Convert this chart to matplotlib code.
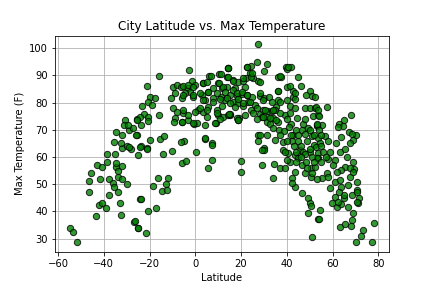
import numpy as np
import matplotlib
matplotlib.use("Agg")
import matplotlib.pyplot as plt

# latitude / max temperature pairs
lat = [
    -54.8, -53.3, -51.6, -43.4, -41.9, -40.9, -38.9, -37.6, -32.3, -33.0, -33.9, -46.5,
    -46.4, -45.7, -41.5, -42.8, -40.9, -38.6, -38.4, -37.9, -35.0, -34.5, -34.8, -33.9,
    -33.9, -36.1, -35.4, -31.9, -31.9, -30.0, -32.1, -29.8, -28.1, -26.9, -24.9, -24.3,
    -30.7, -31.3, -34.8, -32.1, -29.2, -27.1, -25.3, -35.4, -32.4, -29.2, -25.6, -29.5,
    -2.6, -15.9, -21.0, -9.6, -7.9, -6.2, -3.3, -1.6, -0.1, -2.3, -4.5, -0.9,
    -8.9, -10.6, -5.9, -19.8, -17.6, -20.5, -19.0, -23.1, -22.3, -20.8, -24.1, -25.6,
    -23.7, -20.5, -15.7, -25.9, -23.7, -21.2, -19.8, -15.4, -13.5, -9.6, -8.1, -5.2,
    -8.9, -5.9, -3.1, -9.2, -0.4, 0.6, -4.8, -6.2, 4.2, 7.4,
    6.0, 3.5, 5.4, 10.5, 14.1, 10.0, 11.8, 13.7, 2.8, 4.2, 7.9, 11.2,
    13.0, 5.4, 1.3, 3.5, 9.3, 11.8, 5.0, 10.0, 12.2, 9.0, 14.4,
    27.5, 27.1, 31.2, 30.1, 22.7, 24.3, 14.4, 39.5, 41.8, 40.0, 23.9, 27.5,
    22.0, 25.3, 36.2, 37.4, 44.7, 40.3, 36.2, 42.8, 46.2, 50.1, 51.1, 48.3,
    42.8, 36.0, 41.4, 35.5, 47.9, 50.1, 52.3, 51.5, 53.7, 13.7, 16.6, 18.8,
    21.0, 17.3, 21.7, 15.2, 18.1, 20.3, 22.4, 24.6, 28.3, 30.1, 16.6, 18.8,
    23.1, 26.1, 17.3, 21.0, 24.3, 26.8, 15.2, 19.1, 18.5, 28.3, 29.7, 31.6,
    33.4, 34.8, 29.0, 31.2, 34.1, 31.2, 32.6, 36.0, 39.2, 34.1, 36.7, 38.9,
    27.5, 31.2, 34.8, 27.5, 30.1, 38.4, 42.1, 42.8, 46.5, 49.3, 47.9, 51.1,
    53.0, 52.0, 15.0,
    57.7, 52.7, 53.7, 54.0, 55.2, 53.0, 68.0, 65.1, 62.8, 64.6, 62.4, 67.2,
    70.2, 68.3, 69.0, 63.9, 56.6, 58.1, 61.7, 67.6, 53.7, 54.5, 52.3,
    52.7, 54.9, 58.8, 53.5, 53.7, 58.1, 61.0, 63.2, 65.4, 66.4, 69.0, 69.4,
    67.6, 70.5, 70.9, 71.6, 71.2, 70.5, 69.0, 68.3, 78.2, 73.4, 72.4, 70.2,
    77.3, 63.2, 65.4, 68.0, 54.5, 53.5, 57.4, 55.5, 58.8, 61.0, 63.2, 61.0,
    59.8, 61.8, 63.9, 65.1, 66.8, 62.4, 63.9, 66.8, 65.1, 68.3, 62.8, 65.4,
    67.6, 63.9, 62.1, 60.2, 69.0, 70.5, 58.1,
    20.0, 19.8, 29.3, 34.1, 34.6, 30.1, 29.0, 37.0, 39.2, 41.4, 42.1, 43.5,
    42.1, 46.5, 49.3, 50.1, 50.8, 49.3, 51.1, 54.0, 43.5, 46.5, 47.9, 50.8,
    50.5, 48.6, 52.3, 38.4, 40.6, 43.5, 45.7, 50.1, 53.0, 40.0, 45.0,
    -24.1, -21.2, -24.9, -14.0, -10.0, 0.3, -5.9, -4.2, 5.7, 7.2, 7.2, -16.2,
    -11.8, -18.3, -12.8, -14.7, -12.2, -23.7, -20.5, -17.3, -26.3, -24.9, -21.7,
    14.4, 22.4, 6.7, 11.1, 14.1, 16.6, 21.0, 24.3, 24.6, 28.3, 37.0, 40.6,
    41.4, 43.5, 36.2, -5.2, -3.0, -0.9, 3.2, 5.0, 7.9, 10.5, 12.2, 5.7,
    9.3, 13.0, 16.6, 18.1, 20.3, 22.4, 28.3, 32.3, 2.1, -0.9, -5.2, 3.5,
    7.9, 10.8, 13.7, 15.2, 18.8, 21.0, 23.9, 29.7, 33.4, 37.0, 40.0, 43.5,
    30.4, 34.1, 37.0, 29.7, 32.6, 35.5, 41.4, 43.5, 44.3, -5.2, -3.0, -0.1,
    2.1, 5.0, 9.3, 14.8, 18.1, 21.7, 25.3, 26.8, -0.9, 4.2, 8.6, 10.8,
    18.8, -5.9, 4.2, 28.3, 37.0,
    42.0, 44.0, 45.0, 46.0, 47.0, 48.0, 49.0, 50.0, 51.0, 52.0, 44.0, 43.0,
    45.0, 47.0, 48.0, 50.0, 52.0, 53.0, 54.0, 55.0, 56.0, 57.0, 55.0, 44.0,
    46.0, 49.0, 51.0, 53.0, 42.0, 41.0, 40.0, 40.0, 39.0,
]
max_temp = [
    34.0, 32.5, 28.7, 38.3, 42.3, 43.2, 41.4, 46.0, 38.7, 43.0, 47.0, 47.0,
    51.2, 54.0, 51.8, 57.0, 56.2, 61.0, 58.0, 51.8, 61.0, 56.5, 57.7, 54.9,
    52.8, 50.6, 49.1, 51.8, 56.8, 50.0, 63.5, 64.1, 63.0, 36.3, 34.0, 44.5,
    73.6, 71.8, 69.1, 68.1, 70.0, 70.6, 68.1, 65.7, 65.1, 63.8, 74.0, 71.8,
    92.0, 89.7, 86.0, 85.9, 86.5, 85.9, 85.3, 88.0, 86.5, 84.0, 83.5, 82.2,
    83.5, 81.8, 81.6, 82.2, 81.6, 80.4, 79.2, 78.9, 75.7, 74.9, 74.9, 73.6,
    71.8, 73.3, 75.5, 68.1, 64.1, 63.2, 66.2, 66.5, 67.8, 78.2, 76.7, 76.1,
    74.3, 73.0, 73.6, 73.0, 72.1, 72.4, 65.9, 65.4, 66.7, 65.1,
    89.9, 87.1, 84.0, 90.4, 92.6, 87.1, 85.3, 85.9, 82.8, 81.0, 81.6, 82.2,
    81.0, 78.5, 77.3, 76.5, 77.3, 78.9, 74.9, 75.5, 74.9, 72.4, 75.5,
    101.5, 95.1, 94.2, 91.7, 93.2, 93.5, 92.6, 93.2, 93.2, 92.3, 90.8, 88.1,
    89.2, 89.0, 89.6, 89.6, 89.6, 85.9, 84.3, 84.3, 86.1, 84.3, 82.5, 82.8,
    82.2, 81.0, 78.8, 78.5, 78.2, 77.9, 78.2, 75.2, 75.5, 89.6, 88.3, 87.7,
    88.0, 85.3, 85.9, 82.8, 82.5, 83.1, 82.8, 82.2, 82.6, 81.6, 80.4, 79.8,
    80.4, 79.2, 78.5, 78.9, 77.3, 77.9, 75.5, 74.5, 73.6, 75.7, 77.3, 76.9,
    76.9, 77.3, 74.9, 74.9, 74.3, 73.0, 72.1, 72.8, 75.5, 70.6, 70.0, 69.6,
    68.1, 68.1, 66.3, 65.9, 63.5, 65.7, 65.9, 68.1, 70.0, 70.6, 68.4, 67.9,
    71.5, 64.5, 75.7,
    78.3, 78.5, 77.3, 75.1, 71.8, 71.8, 75.5, 73.6, 72.1, 71.5, 71.2, 69.3,
    68.1, 68.4, 66.3, 67.5, 67.9, 65.9, 65.1, 65.1, 66.9, 65.1, 82.2,
    63.8, 64.1, 62.0, 61.4, 59.6, 59.2, 58.9, 61.8, 63.0, 59.9, 58.3, 55.6,
    52.8, 51.0, 47.9, 44.9, 43.0, 43.4, 39.3, 36.9, 35.7, 33.2, 31.1, 28.7,
    28.9, 34.3, 35.4, 34.8, 40.6, 37.2, 54.0, 52.2, 48.5, 51.0, 51.6, 45.4,
    43.0, 41.8, 42.7, 44.9, 41.8, 43.6, 49.1, 49.7, 46.1, 46.1, 47.3, 56.5,
    55.9, 55.3, 54.6, 57.1, 54.6, 47.3, 52.8,
    58.7, 54.4, 57.1, 52.2, 57.5, 62.6, 62.6, 56.1, 55.9, 58.3, 52.2, 49.1,
    50.4, 46.7, 44.9, 43.0, 42.1, 39.3, 30.6, 37.2, 54.6, 57.1, 54.0, 52.8,
    55.9, 58.3, 56.5, 62.6, 61.4, 60.8, 62.6, 62.0, 59.6, 58.9, 59.6,
    63.8, 63.0, 60.8, 61.2, 62.3, 61.8, 57.7, 58.6, 55.9, 58.9, 64.4, 52.2,
    52.2, 49.5, 50.0, 47.5, 47.9, 44.6, 40.2, 41.2, 36.5, 33.8, 32.0,
    92.9, 93.2, 89.8, 90.4, 89.3, 88.0, 89.0, 89.6, 91.0, 87.7, 89.8, 93.0,
    86.1, 83.5, 84.3, 86.1, 86.5, 85.9, 87.1, 87.7, 85.5, 87.1, 85.9, 84.0,
    83.5, 84.0, 84.7, 83.5, 84.0, 82.8, 83.5, 82.2, 83.5, 82.8, 82.8, 81.0,
    80.4, 81.3, 81.6, 80.0, 81.3, 79.8, 80.4, 81.0, 80.4, 80.4, 81.0, 81.3,
    77.3, 77.3, 76.1, 74.9, 74.3, 73.6, 76.1, 77.9, 74.3, 77.3, 75.5, 76.7,
    77.9, 77.3, 76.1, 75.8, 74.3, 75.5, 76.1, 73.9, 72.4, 71.8, 72.4, 73.9,
    73.6, 73.0, 66.9, 68.1, 68.1,
    72.0, 70.0, 66.0, 64.0, 62.0, 61.0, 66.0, 63.0, 60.0, 58.0, 62.0, 64.0,
    68.0, 72.0, 74.0, 70.0, 68.0, 72.0, 70.0, 68.0, 62.0, 60.0, 58.0, 58.0,
    60.0, 56.0, 54.0, 52.0, 68.0, 71.0, 74.0, 66.0, 62.0,
]

fig, ax = plt.subplots(figsize=(6, 4), dpi=72)
fig.subplots_adjust(left=0.127, right=0.9, top=0.876, bottom=0.125)

ax.scatter(lat, max_temp, s=40, c="green", edgecolors="black",
           linewidths=1, alpha=0.8, zorder=3)

ax.set_title("City Latitude vs. Max Temperature")
ax.set_xlabel("Latitude")
ax.set_ylabel("Max Temperature (F)")
ax.set_xlim(-61.4, 84.6)
ax.set_ylim(25.1, 104.6)
ax.grid(True, color="#b0b0b0")

plt.savefig("out.png", dpi=72)
